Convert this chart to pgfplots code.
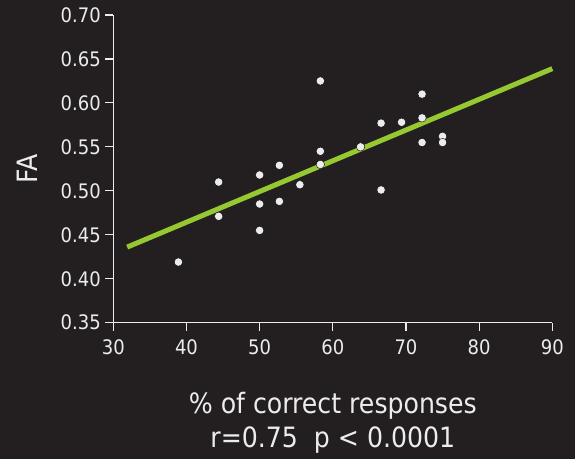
\documentclass[border=0pt]{standalone}
\usepackage{pgfplots}
\pgfplotsset{compat=1.18}
\usepackage{fontspec}
\usepackage{graphicx}
\setmainfont{DejaVu Sans Condensed}
\definecolor{bg}{RGB}{35,31,32}
\definecolor{fg}{RGB}{236,236,236}
\definecolor{lime}{RGB}{150,200,50}
\begin{document}
\begin{tikzpicture}
\fill[bg] (-113.3pt,-136.3pt) rectangle (461.7pt,322.7pt);
\begin{axis}[
  at={(0,0)}, anchor=south west,
  scale only axis, width=439pt, height=307.7pt,
  xmin=30, xmax=90, ymin=0.35, ymax=0.70,
  axis x line*=bottom, axis y line*=left,
  axis line style={fg, line width=1.1pt},
  every tick/.style={fg, line width=1.1pt},
  tick align=outside, major tick length=8pt,
  xtick={30,40,50,60,70,80,90},
  ytick={0.35,0.40,0.45,0.50,0.55,0.60,0.65,0.70},
  /pgf/number format/assume math mode=true,
  yticklabel style={/pgf/number format/fixed, /pgf/number format/fixed zerofill, /pgf/number format/precision=2, xshift=-1pt},
  xticklabel style={yshift=-5pt},
  ticklabel style={font=\fontsize{20}{24}\selectfont, text=fg},
  xlabel={\% of correct responses\\r=0.75\ \ p < 0.0001},
  xlabel style={at={(axis description cs:0.5,-0.2242)}, anchor=north, inner sep=0pt, align=center, font=\fontsize{28}{34}\selectfont, text=fg},
  clip=false,
]
\addplot[lime, line width=5pt] coordinates {(31.9,0.436) (90,0.639)};
\addplot[only marks, mark=*, mark size=4.2pt, mark options={fill=fg, draw=none}] coordinates {
(38.9,0.419) (44.4,0.510) (44.4,0.471) (50,0.518) (50,0.485) (50,0.455)
(52.7,0.529) (52.7,0.488) (55.5,0.507) (58.3,0.625) (58.3,0.545) (58.3,0.530)
(63.8,0.550) (66.6,0.577) (66.6,0.501) (69.4,0.578) (72.2,0.610) (72.2,0.583)
(72.2,0.555) (75,0.562) (75,0.555)
};
\node[anchor=center, text=fg, font=\fontsize{28}{32}\selectfont, inner sep=0pt] at (axis description cs:-0.196,0.5) {\rotatebox{90}{FA}};
\end{axis}
\pgfresetboundingbox
\path[use as bounding box] (-113.3pt,-136.3pt) rectangle (461.7pt,322.7pt);
\end{tikzpicture}
\end{document}
